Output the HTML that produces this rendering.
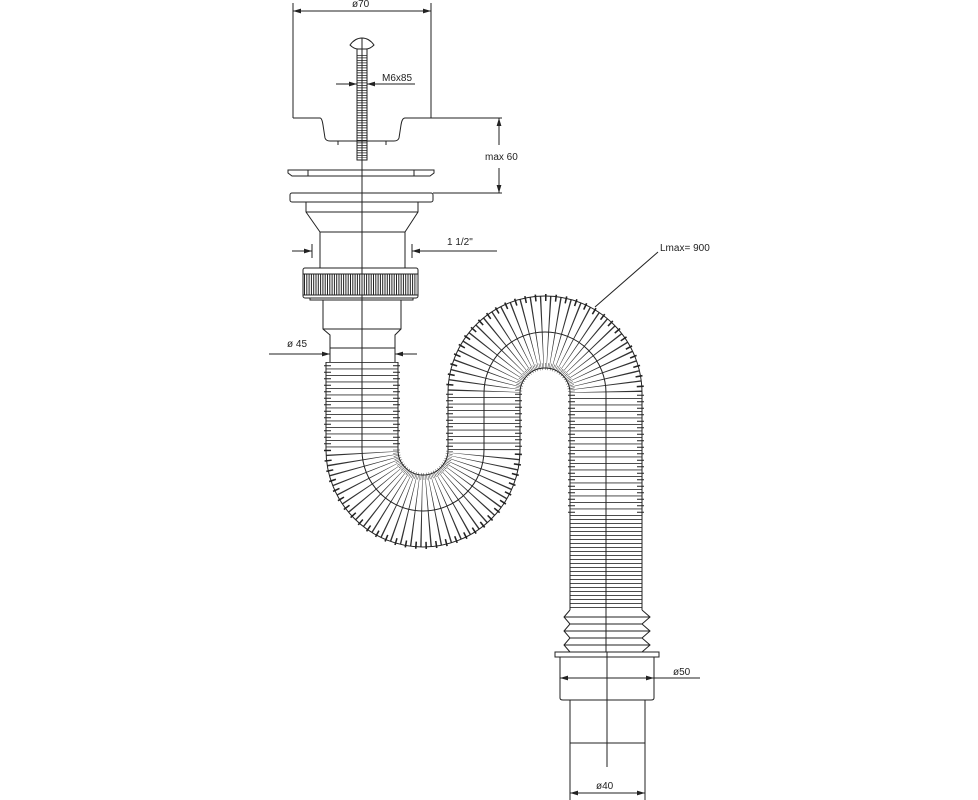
<!DOCTYPE html>
<html><head><meta charset="utf-8"><style>
html,body{margin:0;padding:0;background:#fff;}
svg{display:block}
text{font-family:"Liberation Sans",sans-serif;font-size:10px;fill:#222}
</style></head><body>
<svg width="978" height="800" viewBox="0 0 978 800" xmlns="http://www.w3.org/2000/svg">
<defs>
<marker id="a" viewBox="0 0 10 6" refX="10" refY="3" markerWidth="8" markerHeight="5" orient="auto-start-reverse"><path d="M0,0L10,3L0,6z" fill="#222"/></marker>
</defs>
<g fill="none">
<path d="M362,362V450A61,61 0 0 0 484,450V393A61,61 0 0 1 606,393V515" stroke="#222" stroke-width="76" stroke-dasharray="1 5.5" stroke-dashoffset="3.2"/>
<path d="M362,360V450A61,61 0 0 0 484,450V393A61,61 0 0 1 606,393V516" stroke="#fff" stroke-width="62"/>
<path d="M362,362V450A61,61 0 0 0 484,450V393A61,61 0 0 1 606,393V515" stroke="#333" stroke-width="72" stroke-dasharray="0.9 5.6"/>
<path d="M606,515V610" stroke="#333" stroke-width="73" stroke-dasharray="0.9 3.1"/>
</g>
<g fill="none" stroke="#222" stroke-width="1">
<path d="M326,362V450A97,97 0 0 0 520,450V393A25,25 0 0 1 570,393V610"/>
<path d="M398,362V450A25,25 0 0 0 448,450V393A97,97 0 0 1 642,393V610"/>
<path d="M570,610L564,617L570,624L564,631L570,638L564,645L570,652"/>
<path d="M642,610L650,617L642,624L650,631L642,638L650,645L642,652"/>
<path d="M564,617H650M570,624H642M564,631H650M570,638H642M564,645H650"/>
<path d="M362,443V450A61,61 0 0 0 484,450V393A61,61 0 0 1 606,393V652"/>
<line x1="293" y1="3" x2="293" y2="118"/><line x1="431" y1="3" x2="431" y2="118"/>
<line x1="293" y1="11" x2="431" y2="11" marker-start="url(#a)" marker-end="url(#a)"/>
<path d="M293,118H320Q322,118 323,125L325,138Q326,141 330,141H394Q398,141 399,138L401,125Q402,118 405,118H431"/>
<line x1="431" y1="118" x2="502" y2="118"/>
<line x1="338" y1="141" x2="338" y2="145"/><line x1="386" y1="141" x2="386" y2="145"/>
<path d="M350,45Q355,38 362,38Q369,38 374,45Q370,49 366,49H358Q354,49 350,45z"/>
<rect x="357" y="49" width="10" height="111"/>
<line x1="362" y1="55" x2="362" y2="158" stroke-width="10" stroke-dasharray="0.8 1.7"/>
<line x1="336" y1="84" x2="357" y2="84" marker-end="url(#a)"/>
<line x1="415" y1="84" x2="367" y2="84" marker-end="url(#a)"/>
<line x1="499" y1="118" x2="499" y2="145" marker-start="url(#a)"/>
<line x1="499" y1="168" x2="499" y2="193" marker-end="url(#a)"/>
<line x1="433" y1="193" x2="502" y2="193"/>
<path d="M288,170H434V173L430,176H292L288,173z"/>
<line x1="308" y1="170" x2="308" y2="176"/><line x1="414" y1="170" x2="414" y2="176"/>
<rect x="290" y="193" width="143" height="9" rx="2"/>
<path d="M306,202V212L320,232V268M418,202V212L405,232V268M306,212H418M320,232H405"/>
<line x1="292" y1="251" x2="312" y2="251" marker-end="url(#a)"/>
<line x1="497" y1="251" x2="412" y2="251" marker-end="url(#a)"/>
<line x1="312" y1="244" x2="312" y2="258"/><line x1="412" y1="244" x2="412" y2="258"/>
<rect x="303" y="268" width="115" height="30" rx="2"/>
<line x1="303" y1="274" x2="418" y2="274"/><line x1="303" y1="295" x2="418" y2="295"/>
<line x1="304" y1="284.5" x2="417" y2="284.5" stroke-width="21" stroke-dasharray="1 1.3"/>
<path d="M310,298V300H413V298M323,300V329L330,335V348M401,300V329L395,335V348M323,329H401M330,348H395"/>
<line x1="269" y1="354" x2="330" y2="354" marker-end="url(#a)"/>
<line x1="417" y1="354" x2="395" y2="354" marker-end="url(#a)"/>
<line x1="330" y1="345" x2="330" y2="362"/><line x1="395" y1="345" x2="395" y2="362"/>
<line x1="362" y1="38" x2="362" y2="443"/>
<path d="M555,652H659V657H555z"/>
<path d="M560,657V698Q560,700 563,700H651Q654,700 654,698V657"/>
<path d="M570,700V800M645,700V800M570,743H645"/>
<line x1="607" y1="652" x2="607" y2="767"/>
<line x1="700" y1="678" x2="654" y2="678"/>
<line x1="607" y1="678" x2="560" y2="678" marker-end="url(#a)"/>
<line x1="607" y1="678" x2="654" y2="678" marker-end="url(#a)"/>
<line x1="607" y1="793" x2="570" y2="793" marker-end="url(#a)"/>
<line x1="607" y1="793" x2="645" y2="793" marker-end="url(#a)"/>
<line x1="595" y1="307" x2="658" y2="252"/>
</g>
<text x="352" y="7">ø70</text>
<text x="382" y="81">M6x85</text>
<text x="485" y="160">max 60</text>
<text x="447" y="245">1 1/2"</text>
<text x="287" y="347">ø 45</text>
<text x="660" y="251">Lmax= 900</text>
<text x="673" y="675">ø50</text>
<text x="596" y="789">ø40</text>
</svg>
</body></html>
